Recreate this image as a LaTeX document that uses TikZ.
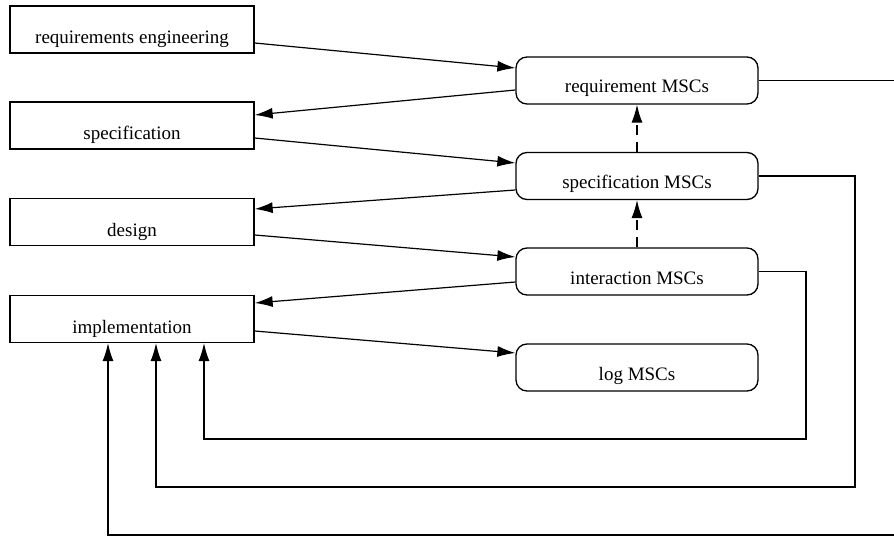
\documentclass[tikz,border=0pt]{standalone}
\usepackage{fontspec}
\setmainfont{Liberation Serif}
\usetikzlibrary{arrows.meta,positioning}
\tikzset{phase node/.style={rectangle, draw, line width=1.3pt,
    minimum width=244pt, inner sep=0pt, text height=38pt, text depth=9pt,
    font=\fontsize{19}{22}\selectfont}}
\tikzset{msc node/.style={phase node, rounded corners=11pt, minimum width=242pt,
    text height=36pt, text depth=11pt}}
\tikzset{regular edge/.style={draw, line width=1.2pt, -{Latex[length=18pt,width=11pt]}}}
\tikzset{refine edge/.style={regular edge, dash pattern=on 10pt off 7pt}}
\tikzset{feedback edge/.style={draw, line width=1.2pt}}

\begin{document}
\begin{tikzpicture}
      [x=1pt, y=1pt]
      \useasboundingbox (0,0) rectangle (894,-537);
      \node [phase node] (reqeng)  at (132,  -29.5) {requirements engineering};
      \node [phase node] (spec)    at (132, -125.5) {specification};
      \node [phase node] (design)  at (132, -222)   {design};
      \node [phase node] (impl)    at (132, -319)   {implementation};
      \node [msc node]   (reqmsc)  at (637,  -80.5) {requirement MSCs};
      \node [msc node]   (specmsc) at (637, -176)   {specification MSCs};
      \node [msc node]   (intmsc)  at (637, -271.5) {interaction MSCs};
      \node [msc node]   (logmsc)  at (637, -367.5) {log MSCs};
      \coordinate (rightend)  at (894,    0);
      \coordinate (speccorner) at (855, -487);
      \coordinate (intcorner)  at (806, -439);
      \coordinate (bottomend)  at (894, -535);

      % phases to MSCs and back
      \draw [regular edge] ([yshift=-13.5pt]reqeng.east) to ([yshift=12.5pt]reqmsc.west);
      \draw [regular edge] ([yshift=-9.5pt]reqmsc.west)  to ([yshift=10.5pt]spec.east);
      \draw [regular edge] ([yshift=-12.5pt]spec.east)   to ([yshift=13pt]specmsc.west);
      \draw [regular edge] ([yshift=-14pt]specmsc.west)  to ([yshift=13pt]design.east);
      \draw [regular edge] ([yshift=-13pt]design.east)   to ([yshift=14.5pt]intmsc.west);
      \draw [regular edge] ([yshift=-10.5pt]intmsc.west) to ([yshift=16pt]impl.east);
      \draw [regular edge] ([yshift=-12pt]impl.east)     to ([yshift=14.5pt]logmsc.west);

      % refinement
      \draw [refine edge] (intmsc.north)  to (specmsc.south);
      \draw [refine edge] (specmsc.north) to (reqmsc.south);

      % feedback
      \draw [feedback edge] (reqmsc.east) -- (reqmsc.east -| rightend);
      \draw [regular edge] (intmsc.east) -| (intcorner) -| ([xshift=72pt]impl.south);
      \draw [regular edge] (specmsc.east) -| (speccorner) -| ([xshift=24pt]impl.south);
      \draw [regular edge] (bottomend) -| ([xshift=-24pt]impl.south);
    \end{tikzpicture}
\end{document}
